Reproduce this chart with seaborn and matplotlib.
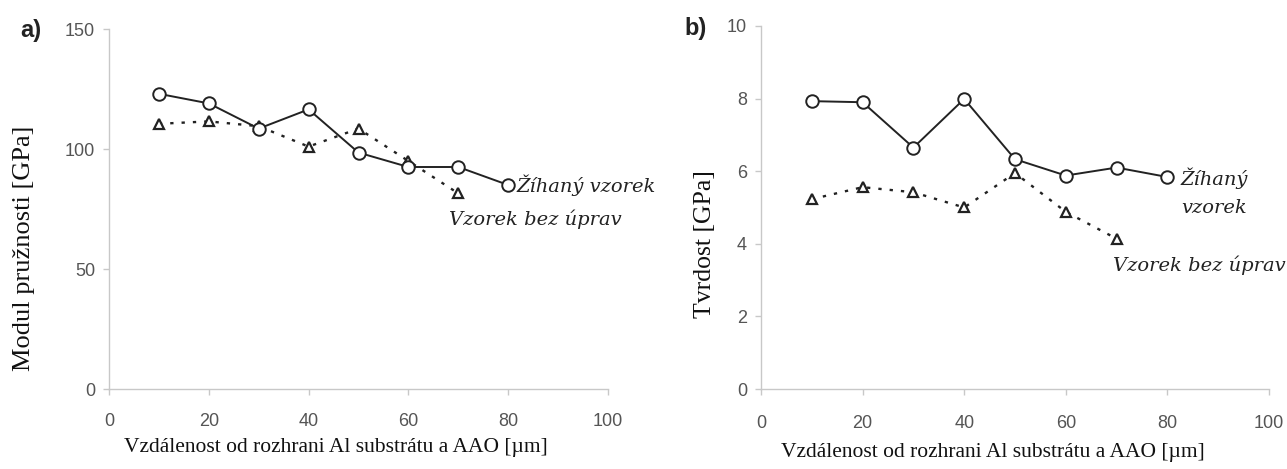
import numpy as np
import pandas as pd
import matplotlib
matplotlib.use("Agg")
import matplotlib.pyplot as plt
import seaborn as sns

# ---- data ----
distance = [10, 20, 30, 40, 50, 60, 70, 80]
modulus_annealed = [123, 119, 108.5, 116.5, 98.5, 92.5, 92.5, 85]
distance_raw = [10, 20, 30, 40, 50, 60, 70]
modulus_raw = [110.5, 111.5, 109.5, 101, 108.5, 95, 81.5]
hardness_annealed = [7.93, 7.9, 6.65, 7.99, 6.33, 5.88, 6.1, 5.84]
hardness_raw = [5.23, 5.56, 5.42, 5.0, 5.95, 4.88, 4.14]

xticks = [0, 20, 40, 60, 80, 100]
yticks_a = [0, 50, 100, 150]
yticks_b = [0, 2, 4, 6, 8, 10]

xlabel = "Vzdálenost od rozhrani Al substrátu a AAO [µm]"
ylabel_a = "Modul pružnosti [GPa]"
ylabel_b = "Tvrdost [GPa]"

sns.set_theme(style="white")
plt.rcParams['font.family'] = ['Liberation Sans', 'DejaVu Sans']

W, H = 1287, 469
fig = plt.figure(figsize=(W / 100, H / 100), dpi=100)
fig.patch.set_facecolor("white")


def px_axes(x0, x1, y_top, y_bot):
    return fig.add_axes([x0 / W, 1 - y_bot / H, (x1 - x0) / W, (y_bot - y_top) / H])


A1 = (109, 608, 29, 389)
A2 = (761, 1269, 26, 389)
ax1 = px_axes(*A1)
ax2 = px_axes(*A2)

df_a1 = pd.DataFrame({"x": distance, "y": modulus_annealed})
df_a2 = pd.DataFrame({"x": distance_raw, "y": modulus_raw})
df_b1 = pd.DataFrame({"x": distance, "y": hardness_annealed})
df_b2 = pd.DataFrame({"x": distance_raw, "y": hardness_raw})

for ax, d1, d2, yt, xpad in [(ax1, df_a1, df_a2, yticks_a, 13),
                             (ax2, df_b1, df_b2, yticks_b, 15)]:
    sns.lineplot(data=d2, x="x", y="y", ax=ax, color="#222222", linewidth=1.7,
                 linestyle=(0, (1.4, 3.4)), marker="^", markersize=7.5,
                 markerfacecolor="white", markeredgecolor="#222222",
                 markeredgewidth=1.6, zorder=3)
    sns.lineplot(data=d1, x="x", y="y", ax=ax, color="#222222", linewidth=1.4,
                 marker="o", markersize=9, markerfacecolor="white",
                 markeredgecolor="#222222", markeredgewidth=1.4, zorder=4)
    ax.set_xlim(0, 100)
    ax.set_ylim(yt[0], yt[-1])
    ax.set_xticks(xticks)
    ax.set_yticks(yt)
    ax.set_xticklabels([str(v) for v in xticks])
    ax.set_yticklabels([str(v) for v in yt])
    for s in ["top", "right"]:
        ax.spines[s].set_visible(False)
    for s in ["left", "bottom"]:
        ax.spines[s].set_color("#c8c8c8")
        ax.spines[s].set_linewidth(1.0)
    ax.tick_params(axis="both", which="major", length=4, width=1.0,
                   color="#c8c8c8", labelcolor="#555555", labelsize=13,
                   direction="out", bottom=True, left=True)
    ax.tick_params(axis="x", pad=xpad)
    ax.tick_params(axis="y", pad=6)
    ax.set_xlabel(xlabel, fontsize=15.5, family="Liberation Serif", color="#111111")
    ax.xaxis.label.set_va("center")
    ax.grid(False)
    ax.set_facecolor("white")
    ax.patch.set_alpha(0)

ax1.set_ylabel(ylabel_a, fontsize=19, family="Liberation Serif", color="#111111")
ax2.set_ylabel(ylabel_b, fontsize=18.5, family="Liberation Serif", color="#111111")


def set_lab(ax, box, xlab_xy, ylab_xy):
    x0, x1, yt, yb = box
    ax.xaxis.set_label_coords((xlab_xy[0] - x0) / (x1 - x0), (yb - xlab_xy[1]) / (yb - yt))
    ax.yaxis.label.set_va("center")
    ax.yaxis.set_label_coords((ylab_xy[0] - x0) / (x1 - x0), (yb - ylab_xy[1]) / (yb - yt))


set_lab(ax1, A1, (336, 447), (24, 248))
set_lab(ax2, A2, (993, 452), (705, 244))


def ftext(x, y, s, **kw):
    fig.text(x / W, 1 - y / H, s, **kw)


ann = dict(family="DejaVu Serif", style="italic", fontsize=14, color="#222222",
           va="center", ha="left")
ftext(516, 185, "Žíhaný vzorek", **ann)
ftext(449, 219, "Vzorek bez úprav", **ann)
ftext(1180, 178, "Žíhaný", **ann)
ftext(1181, 208, "vzorek", **ann)
ftext(1113, 265, "Vzorek bez úprav", **ann)

panel = dict(family="Liberation Sans", weight="bold", fontsize=17, color="#222222",
             va="center", ha="left")
ftext(20, 31, "a)", **panel)
ftext(684, 28, "b)", **panel)

fig.savefig("out.png", dpi=100, facecolor="white")
